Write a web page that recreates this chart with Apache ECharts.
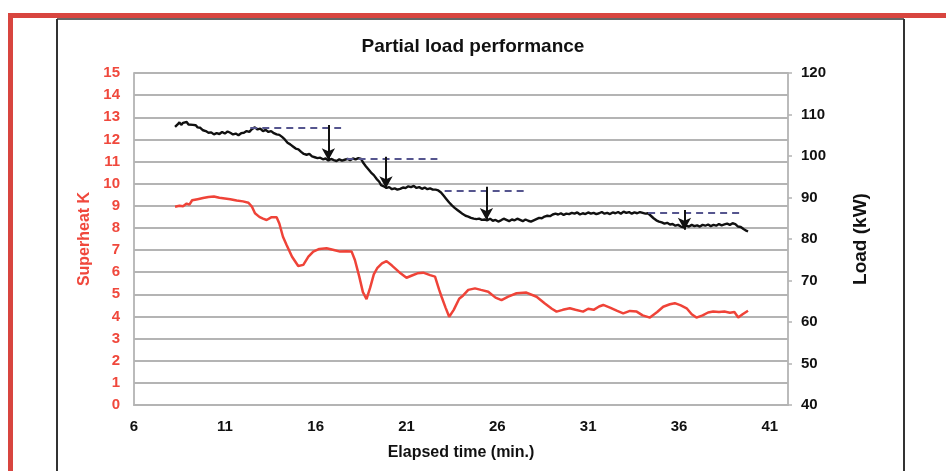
<!DOCTYPE html>
<html>
<head>
<meta charset="utf-8">
<script src="https://cdn.jsdelivr.net/npm/echarts@6/dist/echarts.min.js"></script>
<style>
html,body{margin:0;padding:0;background:#fff;}
#chart{width:946px;height:471px;}
</style>
</head>
<body>
<div id="chart"></div>
<script>
// ---- Data ----
const xTicks = [6, 11, 16, 21, 26, 31, 36, 41];

const superheatTime = [8.26,8.5,8.7,8.9,9.05,9.2,9.5,9.8,10.1,10.4,10.7,11.0,11.3,11.65,12.0,12.3,12.5,12.66,12.9,13.1,13.3,13.55,13.85,14.0,14.2,14.4,14.7,15.04,15.32,15.6,15.87,16.2,16.6,17.0,17.34,17.7,17.98,18.16,18.4,18.6,18.8,19.0,19.2,19.4,19.65,19.9,20.2,20.6,21.0,21.3,21.6,21.92,22.3,22.57,22.8,22.93,23.15,23.35,23.6,23.9,24.12,24.4,24.77,25.1,25.5,25.9,26.23,26.6,27.06,27.6,28.16,28.6,29.0,29.26,29.6,29.99,30.3,30.72,31.0,31.3,31.6,31.83,32.2,32.6,32.93,33.3,33.67,34.0,34.4,34.8,35.13,35.5,35.77,36.1,36.42,36.7,36.96,37.3,37.6,37.88,38.2,38.5,38.8,39.05,39.26,39.5,39.8];
const superheatK = [8.96,9.0,8.98,9.1,9.05,9.25,9.3,9.35,9.4,9.42,9.36,9.33,9.3,9.24,9.2,9.14,8.95,8.66,8.5,8.42,8.36,8.48,8.48,8.2,7.6,7.23,6.7,6.28,6.33,6.7,6.93,7.05,7.08,7.0,6.93,6.95,6.93,6.55,5.8,5.1,4.78,5.3,5.9,6.2,6.4,6.5,6.3,6.0,5.75,5.85,5.95,5.98,5.87,5.8,5.2,4.89,4.4,3.99,4.3,4.8,4.95,5.2,5.27,5.2,5.12,4.85,4.74,4.9,5.05,5.08,4.89,4.6,4.35,4.22,4.3,4.37,4.3,4.22,4.35,4.3,4.45,4.52,4.4,4.25,4.14,4.25,4.22,4.05,3.95,4.2,4.44,4.55,4.6,4.5,4.37,4.1,3.95,4.05,4.18,4.22,4.2,4.22,4.17,4.2,3.95,4.1,4.26];

const loadTime = [8.26,8.4,8.5,8.6,8.7,8.8,8.9,9.0,9.1,9.25,9.4,9.5,9.65,9.8,9.95,10.1,10.25,10.4,10.55,10.7,10.85,11.0,11.15,11.3,11.45,11.6,11.75,11.9,12.05,12.2,12.35,12.5,12.65,12.8,12.95,13.1,13.25,13.4,13.55,13.7,13.85,14.0,14.15,14.3,14.45,14.6,14.75,14.9,15.05,15.2,15.35,15.5,15.65,15.8,15.95,16.1,16.25,16.4,16.55,16.7,16.85,17.0,17.15,17.3,17.45,17.6,17.75,17.9,18.05,18.2,18.35,18.5,18.6,18.75,18.9,19.05,19.2,19.35,19.5,19.6,19.75,19.9,20.05,20.2,20.35,20.5,20.65,20.8,20.95,21.1,21.25,21.4,21.55,21.7,21.85,22.0,22.15,22.3,22.45,22.6,22.75,22.9,23.05,23.2,23.35,23.5,23.65,23.8,23.95,24.1,24.25,24.4,24.55,24.7,24.85,25.0,25.15,25.3,25.45,25.6,25.75,25.9,26.05,26.2,26.35,26.5,26.65,26.8,26.95,27.1,27.25,27.4,27.55,27.7,27.85,28.0,28.15,28.3,28.45,28.6,28.75,28.9,29.05,29.2,29.35,29.5,29.65,29.8,29.95,30.1,30.25,30.4,30.55,30.7,30.85,31.0,31.15,31.3,31.45,31.6,31.75,31.9,32.05,32.2,32.35,32.5,32.65,32.8,32.95,33.1,33.25,33.4,33.55,33.7,33.85,34.0,34.15,34.3,34.45,34.6,34.75,34.9,35.05,35.2,35.35,35.5,35.65,35.8,35.95,36.1,36.25,36.4,36.55,36.7,36.85,37.0,37.15,37.3,37.45,37.6,37.75,37.9,38.05,38.2,38.35,38.5,38.65,38.8,38.95,39.1,39.25,39.4,39.55,39.7,39.8];
const loadKW = [107.0,107.6,108.1,107.5,108.0,107.7,108.2,107.6,107.9,107.5,107.4,106.9,106.8,106.2,106.0,105.6,105.7,105.2,105.5,105.3,105.8,105.4,105.9,105.6,105.2,105.4,105.0,105.5,105.6,106.0,105.8,106.5,106.9,106.4,106.6,106.0,106.3,105.8,106.0,105.5,105.2,105.1,104.6,104.0,103.2,102.8,102.3,101.8,101.6,101.0,100.5,100.3,100.5,99.9,99.7,99.5,99.6,99.2,99.4,98.9,99.3,99.0,98.8,99.2,98.9,99.1,99.3,99.0,99.4,99.2,99.5,99.3,98.5,97.6,96.8,96.0,95.4,94.5,93.8,93.0,92.7,92.3,92.5,92.0,92.2,91.9,92.1,92.4,92.3,92.7,92.5,92.8,92.3,92.5,92.1,92.4,92.0,92.2,91.9,91.9,91.7,91.2,90.4,89.6,88.8,88.1,87.5,87.0,86.5,86.0,85.6,85.4,85.1,84.9,84.8,84.9,84.6,84.7,84.5,84.9,84.4,84.6,84.2,84.5,84.9,84.6,84.3,84.7,84.5,84.9,84.6,84.3,84.7,84.4,84.2,84.5,84.8,85.1,85.0,85.4,85.6,85.5,85.9,86.1,85.9,86.2,85.8,86.1,86.0,86.3,86.1,86.4,85.9,86.2,86.0,86.4,86.1,86.3,86.0,86.2,86.5,86.1,86.3,86.0,86.4,86.2,86.5,86.1,86.6,86.3,86.5,86.1,86.4,86.2,86.5,86.3,86.1,86.2,85.6,85.0,84.5,84.2,84.0,83.7,83.9,83.5,83.6,83.2,83.4,83.0,82.8,83.2,83.0,83.4,83.1,83.3,83.0,83.4,83.2,83.5,83.1,83.4,83.2,83.6,83.3,83.5,83.7,83.4,83.8,83.6,83.0,82.9,82.4,82.0,81.8];

// dashed target lines: start time, end time, load level
const refStart = [12.4, 17.7, 23.1, 34.3];
const refEnd   = [17.4, 22.7, 27.7, 39.35];
const refKW    = [106.7, 99.4, 91.6, 86.3];

// arrows: time, from load, to load
const arrowTime = [16.7, 19.87, 25.4, 36.3];
const arrowFrom = [107.5, 99.8, 92.6, 87.0];
const arrowTo   = [99.0, 92.2, 84.6, 82.2];

// ---- Build ----
const zip = (a, b) => a.map((v, i) => [v, b[i]]);
const refData = refKW.map((v, i) => [{coord: [refStart[i], v]}, {coord: [refEnd[i], v]}]);
const arrowData = arrowTime.map((t, i) => [{coord: [t, arrowFrom[i]]}, {coord: [t, arrowTo[i]]}]);

const FONT = '"Liberation Sans", Arial, sans-serif';
const RED_TXT = '#f0483c';
const GRID = '#b4b4b4';

const chart = echarts.init(document.getElementById('chart'), null, {renderer: 'canvas'});
chart.setOption({
  animation: false,
  backgroundColor: '#fff',
  title: {
    text: 'Partial load performance',
    left: 'center',
    top: 32,
    textStyle: {fontFamily: FONT, fontWeight: 'bold', fontSize: 19, color: '#111'}
  },
  graphic: [
    {type: 'rect', shape: {x: 8, y: 13, width: 938, height: 5}, style: {fill: '#d8453f'}},
    {type: 'rect', shape: {x: 8, y: 13, width: 5, height: 458}, style: {fill: '#d8453f'}},
    {type: 'line', shape: {x1: 57, y1: 19, x2: 904, y2: 19}, style: {stroke: '#666', lineWidth: 2}},
    {type: 'line', shape: {x1: 57, y1: 19, x2: 57, y2: 471}, style: {stroke: '#333', lineWidth: 2}},
    {type: 'line', shape: {x1: 904, y1: 19, x2: 904, y2: 471}, style: {stroke: '#333', lineWidth: 2}}
  ],
  grid: {left: 134, right: 158, top: 73, bottom: 66, containLabel: false},
  xAxis: {
    type: 'value', min: 6, max: 42, interval: 5,
    name: 'Elapsed time (min.)', nameLocation: 'middle', nameGap: 40,
    nameTextStyle: {fontFamily: FONT, fontWeight: 'bold', fontSize: 16, color: '#111'},
    axisLine: {show: true, lineStyle: {color: GRID, width: 1.8}},
    axisTick: {show: false},
    splitLine: {show: false},
    axisLabel: {
      showMaxLabel: false, margin: 14,
      fontFamily: FONT, fontWeight: 'bold', fontSize: 15, color: '#111',
      formatter: v => xTicks.includes(v) ? String(v) : ''
    }
  },
  yAxis: [
    {
      type: 'value', min: 0, max: 15, interval: 1, position: 'left',
      name: 'Superheat K', nameLocation: 'middle', nameGap: 38,
      nameTextStyle: {fontFamily: FONT, fontWeight: 'bold', fontSize: 16, color: RED_TXT},
      axisLine: {show: true, lineStyle: {color: GRID, width: 1.8}},
      axisTick: {show: false},
      splitLine: {show: true, lineStyle: {color: GRID, width: 2}},
      axisLabel: {margin: 14, fontFamily: FONT, fontWeight: 'bold', fontSize: 15, color: RED_TXT}
    },
    {
      type: 'value', min: 40, max: 120, interval: 10, position: 'right',
      name: 'Load (kW)', nameLocation: 'middle', nameGap: 63,
      nameTextStyle: {fontFamily: FONT, fontWeight: 'bold', fontSize: 19, color: '#111'},
      axisLine: {show: true, lineStyle: {color: GRID, width: 1.8}},
      axisTick: {show: true, inside: false, length: 4, lineStyle: {color: GRID, width: 1.5}},
      splitLine: {show: false},
      axisLabel: {margin: 13, fontFamily: FONT, fontWeight: 'bold', fontSize: 15, color: '#111'}
    }
  ],
  series: [
    {
      name: 'Superheat', type: 'line', yAxisIndex: 0, showSymbol: false, symbol: 'none',
      data: zip(superheatTime, superheatK),
      lineStyle: {color: '#ef4338', width: 2.5}
    },
    {
      name: 'Load', type: 'line', yAxisIndex: 1, showSymbol: false, symbol: 'none',
      data: zip(loadTime, loadKW),
      lineStyle: {color: '#111', width: 2.4}
    },
    {
      name: 'Target', type: 'line', yAxisIndex: 1, data: [],
      markLine: {
        silent: true, symbol: ['none', 'none'], label: {show: false},
        lineStyle: {color: '#55558e', width: 1.8, type: [7, 5]},
        data: refData
      }
    },
    {
      name: 'Step', type: 'line', yAxisIndex: 1, data: [],
      markLine: {
        silent: true, symbol: ['none', 'arrow'], symbolSize: [10, 12], label: {show: false},
        lineStyle: {color: '#111', width: 2, type: 'solid'},
        data: arrowData
      }
    }
  ]
});
</script>
</body>
</html>
